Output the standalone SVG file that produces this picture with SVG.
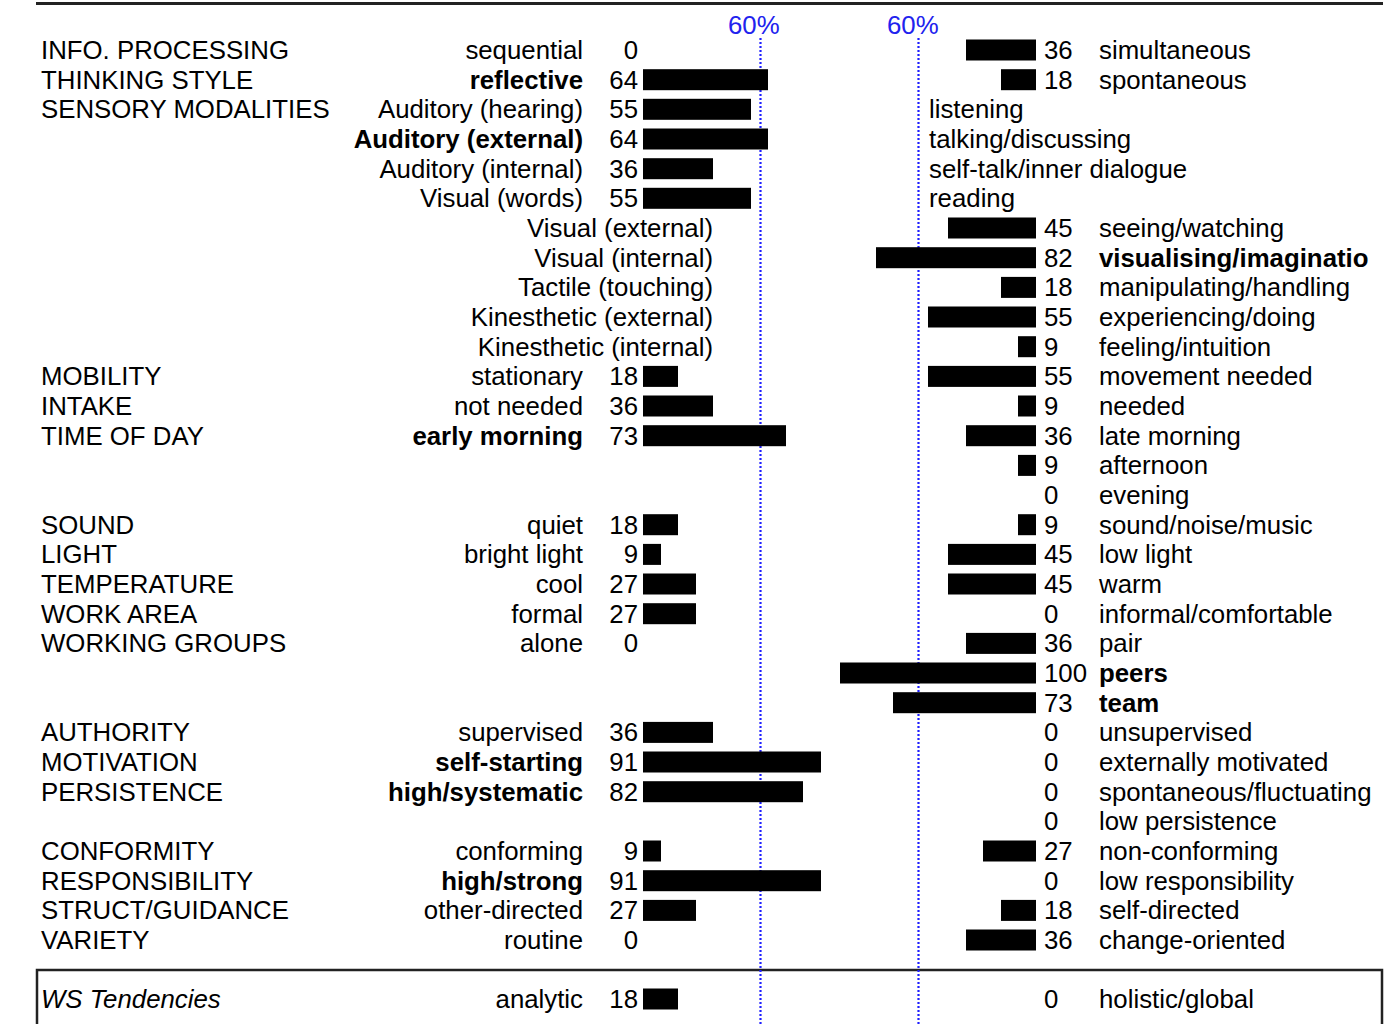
<svg xmlns="http://www.w3.org/2000/svg" width="1399" height="1024" viewBox="0 0 1399 1024">
<style>
text{font-family:"Liberation Sans",Arial,sans-serif;font-size:25.8px;fill:#000}
.r{text-anchor:end}
.b{font-weight:bold}
.i{font-style:italic}
.p{fill:#2222ee}
rect.bar{fill:#000}
.dl{stroke:#1f1fff;stroke-width:2.2;stroke-dasharray:2 2;fill:none}
</style>
<rect width="1399" height="1024" fill="#fff"/>
<g id="frame">
<line x1="36" y1="3.5" x2="1383" y2="3.5" stroke="#222" stroke-width="3"/>
<path d="M37 1030 V970 H1382 V1030" fill="none" stroke="#222" stroke-width="2.5"/>
</g>
<g id="connectors">
<line class="dl" x1="760.5" y1="38" x2="760.5" y2="1024"/>
<line class="dl" x1="918.5" y1="38" x2="918.5" y2="1024"/>
<text class="p" x="728" y="34">60%</text>
<text class="p" x="887" y="34">60%</text>
</g>
<g id="row1"><text x="41" y="59">INFO. PROCESSING</text><text class="r" x="583" y="59">sequential</text><text class="r" x="638" y="59">0</text><rect class="bar" x="966" y="39.5" width="70" height="21"/><text x="1044" y="59">36</text><text x="1099" y="59">simultaneous</text></g>
<g id="row2"><text x="41" y="89">THINKING STYLE</text><text class="r b" x="583" y="89">reflective</text><text class="r" x="638" y="89">64</text><rect class="bar" x="643" y="69.2" width="125" height="21"/><rect class="bar" x="1001" y="69.2" width="35" height="21"/><text x="1044" y="89">18</text><text x="1099" y="89">spontaneous</text></g>
<g id="row3"><text x="41" y="118">SENSORY MODALITIES</text><text class="r" x="583" y="118">Auditory (hearing)</text><text class="r" x="638" y="118">55</text><rect class="bar" x="643" y="98.8" width="108" height="21"/><text x="929" y="118">listening</text></g>
<g id="row4"><text class="r b" x="583" y="148">Auditory (external)</text><text class="r" x="638" y="148">64</text><rect class="bar" x="643" y="128.5" width="125" height="21"/><text x="929" y="148">talking/discussing</text></g>
<g id="row5"><text class="r" x="583" y="178">Auditory (internal)</text><text class="r" x="638" y="178">36</text><rect class="bar" x="643" y="158.2" width="70" height="21"/><text x="929" y="178">self-talk/inner dialogue</text></g>
<g id="row6"><text class="r" x="583" y="207">Visual (words)</text><text class="r" x="638" y="207">55</text><rect class="bar" x="643" y="187.8" width="108" height="21"/><text x="929" y="207">reading</text></g>
<g id="row7"><text class="r" x="713" y="237">Visual (external)</text><rect class="bar" x="948" y="217.5" width="88" height="21"/><text x="1044" y="237">45</text><text x="1099" y="237">seeing/watching</text></g>
<g id="row8"><text class="r" x="713" y="267">Visual (internal)</text><rect class="bar" x="876" y="247.2" width="160" height="21"/><text x="1044" y="267">82</text><text class="b" x="1099" y="267">visualising/imaginatio</text></g>
<g id="row9"><text class="r" x="713" y="296">Tactile (touching)</text><rect class="bar" x="1001" y="276.9" width="35" height="21"/><text x="1044" y="296">18</text><text x="1099" y="296">manipulating/handling</text></g>
<g id="row10"><text class="r" x="713" y="326">Kinesthetic (external)</text><rect class="bar" x="928" y="306.5" width="108" height="21"/><text x="1044" y="326">55</text><text x="1099" y="326">experiencing/doing</text></g>
<g id="row11"><text class="r" x="713" y="356">Kinesthetic (internal)</text><rect class="bar" x="1018" y="336.2" width="18" height="21"/><text x="1044" y="356">9</text><text x="1099" y="356">feeling/intuition</text></g>
<g id="row12"><text x="41" y="385">MOBILITY</text><text class="r" x="583" y="385">stationary</text><text class="r" x="638" y="385">18</text><rect class="bar" x="643" y="365.9" width="35" height="21"/><rect class="bar" x="928" y="365.9" width="108" height="21"/><text x="1044" y="385">55</text><text x="1099" y="385">movement needed</text></g>
<g id="row13"><text x="41" y="415">INTAKE</text><text class="r" x="583" y="415">not needed</text><text class="r" x="638" y="415">36</text><rect class="bar" x="643" y="395.5" width="70" height="21"/><rect class="bar" x="1018" y="395.5" width="18" height="21"/><text x="1044" y="415">9</text><text x="1099" y="415">needed</text></g>
<g id="row14"><text x="41" y="445">TIME OF DAY</text><text class="r b" x="583" y="445">early morning</text><text class="r" x="638" y="445">73</text><rect class="bar" x="643" y="425.2" width="143" height="21"/><rect class="bar" x="966" y="425.2" width="70" height="21"/><text x="1044" y="445">36</text><text x="1099" y="445">late morning</text></g>
<g id="row15"><rect class="bar" x="1018" y="454.9" width="18" height="21"/><text x="1044" y="474">9</text><text x="1099" y="474">afternoon</text></g>
<g id="row16"><text x="1044" y="504">0</text><text x="1099" y="504">evening</text></g>
<g id="row17"><text x="41" y="534">SOUND</text><text class="r" x="583" y="534">quiet</text><text class="r" x="638" y="534">18</text><rect class="bar" x="643" y="514.2" width="35" height="21"/><rect class="bar" x="1018" y="514.2" width="18" height="21"/><text x="1044" y="534">9</text><text x="1099" y="534">sound/noise/music</text></g>
<g id="row18"><text x="41" y="563">LIGHT</text><text class="r" x="583" y="563">bright light</text><text class="r" x="638" y="563">9</text><rect class="bar" x="643" y="543.9" width="18" height="21"/><rect class="bar" x="948" y="543.9" width="88" height="21"/><text x="1044" y="563">45</text><text x="1099" y="563">low light</text></g>
<g id="row19"><text x="41" y="593">TEMPERATURE</text><text class="r" x="583" y="593">cool</text><text class="r" x="638" y="593">27</text><rect class="bar" x="643" y="573.5" width="53" height="21"/><rect class="bar" x="948" y="573.5" width="88" height="21"/><text x="1044" y="593">45</text><text x="1099" y="593">warm</text></g>
<g id="row20"><text x="41" y="623">WORK AREA</text><text class="r" x="583" y="623">formal</text><text class="r" x="638" y="623">27</text><rect class="bar" x="643" y="603.2" width="53" height="21"/><text x="1044" y="623">0</text><text x="1099" y="623">informal/comfortable</text></g>
<g id="row21"><text x="41" y="652">WORKING GROUPS</text><text class="r" x="583" y="652">alone</text><text class="r" x="638" y="652">0</text><rect class="bar" x="966" y="632.9" width="70" height="21"/><text x="1044" y="652">36</text><text x="1099" y="652">pair</text></g>
<g id="row22"><rect class="bar" x="840" y="662.5" width="196" height="21"/><text x="1044" y="682">100</text><text class="b" x="1099" y="682">peers</text></g>
<g id="row23"><rect class="bar" x="893" y="692.2" width="143" height="21"/><text x="1044" y="712">73</text><text class="b" x="1099" y="712">team</text></g>
<g id="row24"><text x="41" y="741">AUTHORITY</text><text class="r" x="583" y="741">supervised</text><text class="r" x="638" y="741">36</text><rect class="bar" x="643" y="721.9" width="70" height="21"/><text x="1044" y="741">0</text><text x="1099" y="741">unsupervised</text></g>
<g id="row25"><text x="41" y="771">MOTIVATION</text><text class="r b" x="583" y="771">self-starting</text><text class="r" x="638" y="771">91</text><rect class="bar" x="643" y="751.5" width="178" height="21"/><text x="1044" y="771">0</text><text x="1099" y="771">externally motivated</text></g>
<g id="row26"><text x="41" y="801">PERSISTENCE</text><text class="r b" x="583" y="801">high/systematic</text><text class="r" x="638" y="801">82</text><rect class="bar" x="643" y="781.2" width="160" height="21"/><text x="1044" y="801">0</text><text x="1099" y="801">spontaneous/fluctuating</text></g>
<g id="row27"><text x="1044" y="830">0</text><text x="1099" y="830">low persistence</text></g>
<g id="row28"><text x="41" y="860">CONFORMITY</text><text class="r" x="583" y="860">conforming</text><text class="r" x="638" y="860">9</text><rect class="bar" x="643" y="840.5" width="18" height="21"/><rect class="bar" x="983" y="840.5" width="53" height="21"/><text x="1044" y="860">27</text><text x="1099" y="860">non-conforming</text></g>
<g id="row29"><text x="41" y="890">RESPONSIBILITY</text><text class="r b" x="583" y="890">high/strong</text><text class="r" x="638" y="890">91</text><rect class="bar" x="643" y="870.2" width="178" height="21"/><text x="1044" y="890">0</text><text x="1099" y="890">low responsibility</text></g>
<g id="row30"><text x="41" y="919">STRUCT/GUIDANCE</text><text class="r" x="583" y="919">other-directed</text><text class="r" x="638" y="919">27</text><rect class="bar" x="643" y="899.9" width="53" height="21"/><rect class="bar" x="1001" y="899.9" width="35" height="21"/><text x="1044" y="919">18</text><text x="1099" y="919">self-directed</text></g>
<g id="row31"><text x="41" y="949">VARIETY</text><text class="r" x="583" y="949">routine</text><text class="r" x="638" y="949">0</text><rect class="bar" x="966" y="929.5" width="70" height="21"/><text x="1044" y="949">36</text><text x="1099" y="949">change-oriented</text></g>
<g id="row32"><text class="i" x="41" y="1008">WS Tendencies</text><text class="r" x="583" y="1008">analytic</text><text class="r" x="638" y="1008">18</text><rect class="bar" x="643" y="988.5" width="35" height="21"/><text x="1044" y="1008">0</text><text x="1099" y="1008">holistic/global</text></g>
</svg>
